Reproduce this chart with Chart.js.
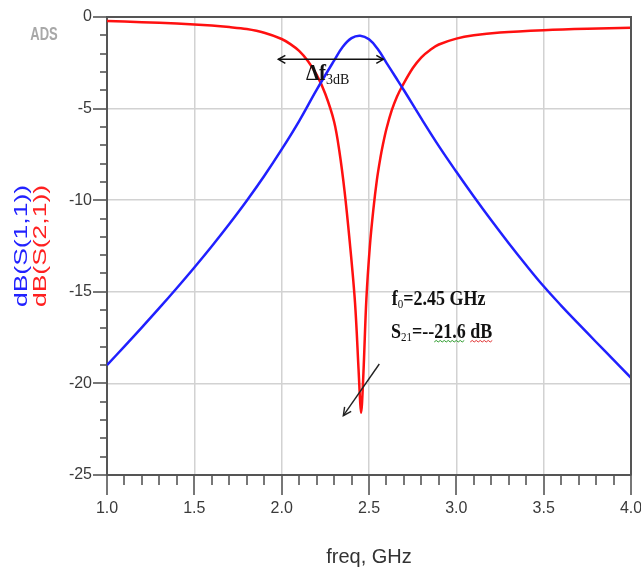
<!DOCTYPE html>
<html>
<head>
<meta charset="utf-8">
<script src="https://cdn.jsdelivr.net/npm/chart.js@4.4.1/dist/chart.umd.min.js"></script>
<style>
html,body{margin:0;padding:0;background:#fff;}
#c{display:block;}
</style>
</head>
<body>
<canvas id="c" width="641" height="571"></canvas>
<script>
// ---- data ----
const freqS11 = [1.0,1.1,1.2,1.3,1.4,1.5,1.6,1.7,1.8,1.9,2.0,2.1,2.2,2.3,2.35,2.4,2.45,2.5,2.55,2.6,2.65,2.7,2.8,2.9,3.0,3.1,3.2,3.3,3.4,3.5,3.6,3.7,3.8,3.9,4.0];
const s11 = [-19.0,-17.98,-16.94,-15.88,-14.79,-13.67,-12.51,-11.30,-10.03,-8.68,-7.23,-5.68,-3.98,-2.38,-1.62,-1.15,-1.02,-1.22,-1.75,-2.5,-3.25,-4.0,-5.55,-7.05,-8.45,-9.8,-11.1,-12.35,-13.55,-14.7,-15.75,-16.75,-17.74,-18.72,-19.7];
const freqS21 = [1.0,1.2,1.4,1.6,1.7,1.8,1.9,2.0,2.05,2.1,2.15,2.2,2.25,2.3,2.33,2.36,2.39,2.42,2.44,2.45,2.455,2.46,2.47,2.485,2.505,2.525,2.545,2.565,2.58,2.6,2.63,2.66,2.69,2.75,2.8,2.85,2.9,3.0,3.1,3.25,3.5,3.75,4.0];
const s21 = [-0.22,-0.28,-0.36,-0.47,-0.55,-0.66,-0.86,-1.2,-1.48,-1.85,-2.4,-3.15,-4.2,-5.7,-7.3,-9.5,-12.3,-15.6,-19.2,-21.1,-21.6,-21.1,-19.0,-15.4,-12.5,-10.5,-8.9,-7.7,-6.95,-6.1,-5.1,-4.35,-3.78,-2.8,-2.2,-1.8,-1.5,-1.18,-1.0,-0.85,-0.72,-0.64,-0.59];
const xTickLabels = ['1.0','1.5','2.0','2.5','3.0','3.5','4.0'];
const yTickLabels = ['-25','-20','-15','-10','-5','0'];
const seriesNames = ['dB(S(1,1))','dB(S(2,1))'];
const xTitle = 'freq, GHz';

const toPts = (xs, ys) => xs.map((x, i) => ({x: x, y: ys[i]}));

const AXIS = '#555555';
const SANS = '"Liberation Sans", Arial, sans-serif';
const SERIF = '"Liberation Serif", "Times New Roman", serif';

function textStretch(ctx, txt, x, y, sy) {
  ctx.save();
  ctx.translate(x, y);
  ctx.scale(1, sy);
  ctx.fillText(txt, 0, 0);
  ctx.restore();
}

function rich(ctx, x, y, parts, sy) {
  let cx = x;
  const spans = [];
  parts.forEach(p => {
    ctx.font = p.font;
    const w = ctx.measureText(p.t).width;
    ctx.save();
    ctx.translate(cx, y + (p.dy || 0));
    ctx.scale(1, sy);
    ctx.fillText(p.t, 0, 0);
    ctx.restore();
    spans.push({x0: cx, x1: cx + w, p: p});
    cx += w;
  });
  return spans;
}

function wavy(ctx, x0, x1, y, color) {
  ctx.save();
  ctx.strokeStyle = color;
  ctx.lineWidth = 1;
  ctx.beginPath();
  let up = true;
  ctx.moveTo(x0, y);
  for (let x = x0 + 2; x <= x1; x += 2) {
    ctx.lineTo(x, up ? y - 1.5 : y);
    up = !up;
  }
  ctx.stroke();
  ctx.restore();
}

function arrowHead(ctx, x, y, ang, len, half) {
  ctx.beginPath();
  const bx = x - Math.cos(ang) * len, by = y - Math.sin(ang) * len;
  const nx = -Math.sin(ang) * half, ny = Math.cos(ang) * half;
  ctx.moveTo(bx + nx, by + ny);
  ctx.lineTo(x, y);
  ctx.lineTo(bx - nx, by - ny);
  ctx.stroke();
}

const decor = {
  id: 'decor',
  afterDraw(chart) {
    const ctx = chart.ctx;
    const xs = chart.scales.x, ys = chart.scales.y;
    const a = chart.chartArea;
    ctx.save();
    // top & right frame
    ctx.strokeStyle = AXIS;
    ctx.lineWidth = 2;
    ctx.beginPath();
    ctx.moveTo(a.left, a.top);
    ctx.lineTo(a.right, a.top);
    ctx.lineTo(a.right, a.bottom);
    ctx.stroke();
    // ticks (major/minor) from scale values
    ctx.lineWidth = 1.6;
    for (let i = 0; i <= Math.round((xs.max - xs.min) / 0.1); i++) {
      const v = xs.min + i * 0.1;
      const px = Math.round(xs.getPixelForValue(v));
      const len = (i % 5 === 0) ? 20 : 10;
      ctx.beginPath();
      ctx.moveTo(px, a.bottom);
      ctx.lineTo(px, a.bottom + len);
      ctx.stroke();
    }
    for (let i = 0; i <= Math.round(ys.max - ys.min); i++) {
      const v = ys.min + i;
      const py = Math.round(ys.getPixelForValue(v));
      const len = (i % 5 === 0) ? 14 : 7;
      ctx.beginPath();
      ctx.moveTo(a.left, py);
      ctx.lineTo(a.left - len, py);
      ctx.stroke();
    }
    // ADS label
    ctx.fillStyle = '#a8a8a8';
    ctx.font = 'bold 13px ' + SANS;
    ctx.textAlign = 'center';
    ctx.textBaseline = 'middle';
    textStretch(ctx, 'ADS', 44, 35, 1.4);
    // y title (two coloured lines)
    const colors = ['#2222ff', '#ff2020'];
    const xsTitle = [22, 41];
    ctx.font = '18px ' + SANS;
    seriesNames.forEach((t, i) => {
      ctx.save();
      ctx.fillStyle = colors[i];
      ctx.translate(xsTitle[i], 246);
      ctx.rotate(-Math.PI / 2);
      const w = ctx.measureText(t).width;
      ctx.scale(122 / w, 1);
      ctx.textAlign = 'center';
      ctx.textBaseline = 'middle';
      ctx.fillText(t, 0, 0);
      ctx.restore();
    });

    // annotations (positions in data coords)
    const P = (f, d) => [xs.getPixelForValue(f), ys.getPixelForValue(d)];
    ctx.strokeStyle = '#111';
    ctx.fillStyle = '#111';
    ctx.lineWidth = 1.5;
    const [ax0, ay] = P(1.981, -2.31);
    const [ax1] = P(2.582, -2.31);
    ctx.beginPath();
    ctx.moveTo(ax0, ay);
    ctx.lineTo(ax1, ay);
    ctx.stroke();
    arrowHead(ctx, ax0, ay, Math.PI, 7, 4);
    arrowHead(ctx, ax1, ay, 0, 7, 4);
    ctx.textAlign = 'left';
    ctx.textBaseline = 'alphabetic';
    const [tx, ty] = P(2.139, -3.44);
    rich(ctx, tx, ty, [
      {t: 'Δf', font: 'bold 21px ' + SERIF},
      {t: '3dB', font: '14px ' + SERIF, dy: 4}
    ], 1.1);
    const [fx, fy] = P(2.630, -15.72);
    rich(ctx, fx, fy, [
      {t: 'f', font: 'bold 18px ' + SERIF},
      {t: '0', font: '11px ' + SERIF, dy: 3},
      {t: '=2.45 GHz', font: 'bold 18px ' + SERIF}
    ], 1.2);
    const [sx, sy] = P(2.626, -17.52);
    const spans = rich(ctx, sx, sy, [
      {t: 'S', font: 'bold 18px ' + SERIF},
      {t: '21', font: '11px ' + SERIF, dy: 3},
      {t: '=--', font: 'bold 18px ' + SERIF},
      {t: '21.6', font: 'bold 18px ' + SERIF},
      {t: ' ', font: 'bold 18px ' + SERIF},
      {t: 'dB', font: 'bold 18px ' + SERIF}
    ], 1.2);
    wavy(ctx, spans[3].x0, spans[3].x1, sy + 4, '#2a9a2a');
    wavy(ctx, spans[5].x0, spans[5].x1, sy + 4, '#e03030');
    ctx.strokeStyle = '#222';
    ctx.lineWidth = 1.4;
    const [d0x, d0y] = P(2.559, -18.94);
    const [d1x, d1y] = P(2.353, -21.76);
    ctx.beginPath();
    ctx.moveTo(d0x, d0y);
    ctx.lineTo(d1x, d1y);
    ctx.stroke();
    arrowHead(ctx, d1x, d1y, Math.atan2(d1y - d0y, d1x - d0x), 8, 4);
    ctx.restore();
  }
};

new Chart(document.getElementById('c'), {
  type: 'line',
  data: {
    datasets: [
      {label: seriesNames[0], data: toPts(freqS11, s11), borderColor: '#2020ff', borderWidth: 2.5,
       pointRadius: 0, tension: 0.4, fill: false},
      {label: seriesNames[1], data: toPts(freqS21, s21), borderColor: '#ff1010', borderWidth: 2.5,
       pointRadius: 0, tension: 0.35, fill: false}
    ]
  },
  options: {
    responsive: false,
    animation: false,
    devicePixelRatio: 1,
    layout: {padding: {top: 17, right: 10, left: 0, bottom: 0}},
    plugins: {legend: {display: false}, tooltip: {enabled: false}},
    scales: {
      x: {
        type: 'linear', min: 1, max: 4,
        afterFit(s) { s.height = 96; s.paddingLeft = 0; s.paddingRight = 0; },
        ticks: {
          stepSize: 0.5, padding: 24, color: '#3a3a3a', maxRotation: 0, autoSkip: false,
          font: {family: SANS, size: 16},
          callback: (v) => { const i = Math.round((v - 1) / 0.5); return xTickLabels[i]; }
        },
        grid: {color: '#d2d2d2', lineWidth: 1.5, drawTicks: false},
        border: {display: true, color: AXIS, width: 2},
        title: {display: true, text: xTitle, color: '#333', font: {family: SANS, size: 20}, padding: {top: 0, bottom: 2}}
      },
      y: {
        type: 'linear', min: -25, max: 0,
        afterFit(s) { s.width = 107; s.paddingTop = 0; s.paddingBottom = 0; },
        ticks: {
          stepSize: 5, padding: 15, color: '#3a3a3a', autoSkip: false,
          font: {family: SANS, size: 16},
          callback: (v) => { const i = Math.round((v + 25) / 5); return yTickLabels[i]; }
        },
        grid: {color: '#d2d2d2', lineWidth: 1.5, drawTicks: false},
        border: {display: true, color: AXIS, width: 2}
      }
    }
  },
  plugins: [decor]
});
</script>
</body>
</html>
